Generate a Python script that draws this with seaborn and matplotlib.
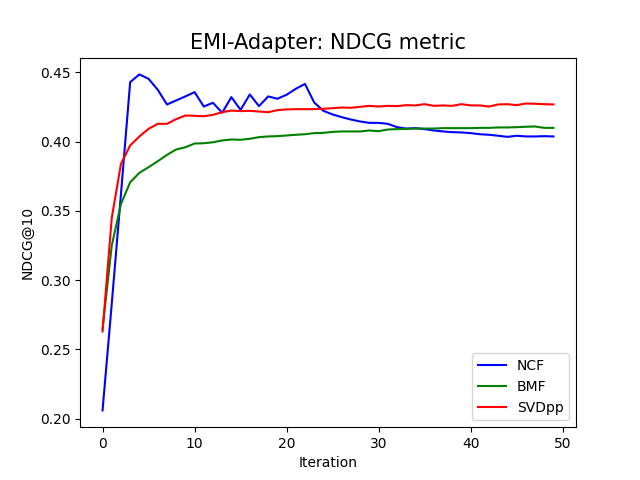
import matplotlib
matplotlib.use("Agg")
import matplotlib.pyplot as plt
import seaborn as sns
import pandas as pd

iterations = list(range(50))
ncf = [0.206, 0.283, 0.362, 0.443, 0.4486, 0.4454, 0.4375, 0.4269, 0.4298, 0.4327,
       0.4358, 0.4254, 0.4281, 0.4209, 0.4322, 0.4230, 0.4341, 0.4257, 0.4327, 0.4310,
       0.4339, 0.4382, 0.4417, 0.4283, 0.4223, 0.4197, 0.4177, 0.4160, 0.4146, 0.4136,
       0.4136, 0.4129, 0.4105, 0.4095, 0.4098, 0.4091, 0.4081, 0.4074, 0.4069, 0.4067,
       0.4062, 0.4054, 0.4050, 0.4043, 0.4035, 0.4043, 0.4038, 0.4038, 0.4040, 0.4038]
bmf = [0.265, 0.325, 0.355, 0.3707, 0.3775, 0.3816, 0.3859, 0.3905, 0.3944, 0.3960,
       0.3987, 0.3989, 0.3996, 0.4009, 0.4016, 0.4014, 0.4021, 0.4033, 0.4038, 0.4040,
       0.4045, 0.4050, 0.4054, 0.4062, 0.4064, 0.4071, 0.4074, 0.4074, 0.4074, 0.4081,
       0.4076, 0.4088, 0.4091, 0.4093, 0.4095, 0.4095, 0.4095, 0.4098, 0.4098, 0.4098,
       0.4098, 0.4100, 0.4100, 0.4103, 0.4103, 0.4105, 0.4108, 0.4110, 0.4100, 0.4100]
svdpp = [0.263, 0.345, 0.384, 0.3973, 0.4038, 0.4093, 0.4129, 0.4129, 0.4163, 0.4189,
         0.4187, 0.4184, 0.4194, 0.4213, 0.4225, 0.4221, 0.4223, 0.4218, 0.4213, 0.4228,
         0.4233, 0.4235, 0.4235, 0.4235, 0.4238, 0.4242, 0.4247, 0.4245, 0.4252, 0.4259,
         0.4254, 0.4259, 0.4257, 0.4264, 0.4262, 0.4271, 0.4259, 0.4262, 0.4259, 0.4271,
         0.4262, 0.4262, 0.4254, 0.4269, 0.4271, 0.4264, 0.4276, 0.4274, 0.4271, 0.4269]

series_names = ["NCF", "BMF", "SVDpp"]
colors = ["blue", "green", "red"]

df = pd.DataFrame({
    "Iteration": iterations * 3,
    "NDCG@10": ncf + bmf + svdpp,
    "Model": [n for n in series_names for _ in iterations],
})

fig, ax = plt.subplots(figsize=(6.4, 4.8), dpi=100)
sns.lineplot(data=df, x="Iteration", y="NDCG@10", hue="Model",
             palette=dict(zip(series_names, colors)), ax=ax, linewidth=1.5)
ax.set_title("EMI-Adapter: NDCG metric", fontsize=15)
ax.set_xlabel("Iteration")
ax.set_ylabel("NDCG@10")
ax.legend(loc="lower right", title=None)
fig.savefig("out.png", dpi=100)
